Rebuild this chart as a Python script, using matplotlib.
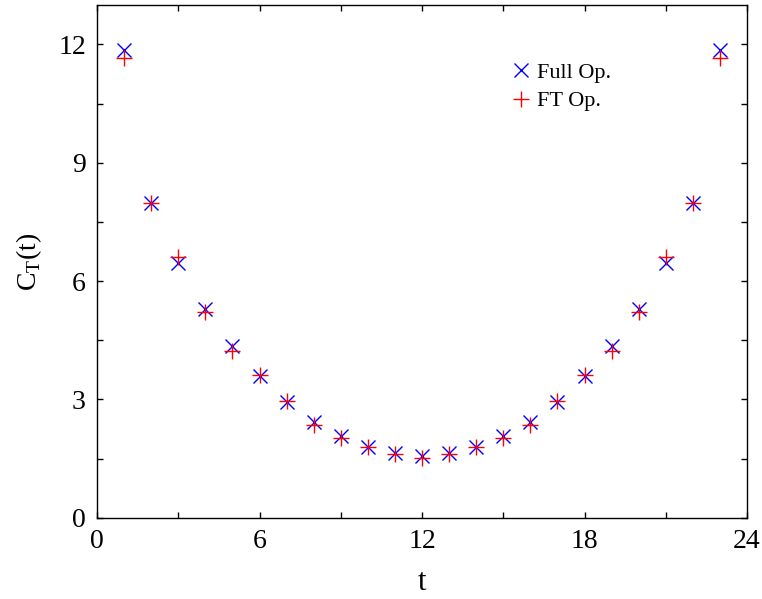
import matplotlib
matplotlib.use("Agg")
import matplotlib.pyplot as plt
from matplotlib.ticker import MultipleLocator

t = list(range(1, 24))
full_op = [11.86, 7.99, 6.47, 5.28, 4.36, 3.59, 2.94, 2.43, 2.07, 1.80, 1.63, 1.56,
           1.63, 1.80, 2.07, 2.43, 2.94, 3.59, 4.36, 5.28, 6.47, 7.99, 11.86]
ft_op = [11.66, 7.99, 6.60, 5.21, 4.22, 3.62, 2.97, 2.35, 2.03, 1.80, 1.61, 1.51,
         1.61, 1.80, 2.03, 2.35, 2.97, 3.62, 4.22, 5.21, 6.60, 7.99, 11.66]

plt.rcParams['font.family'] = ['Liberation Serif', 'DejaVu Serif']
plt.rcParams['mathtext.fontset'] = 'custom'
plt.rcParams['mathtext.rm'] = 'Liberation Serif'

fig = plt.figure(figsize=(7.62, 5.99), dpi=100)
ax = fig.add_axes([97/762, 1-517.7/599, 650/762, 512.7/599])

ax.plot(t, full_op, linestyle='none', marker='x', color='#0000ff', markersize=9.5,
        markeredgewidth=1.0, label='Full Op.')
ax.plot(t, ft_op, linestyle='none', marker='+', color='#ff0000', markersize=12,
        markeredgewidth=1.0, label='FT Op.')

ax.set_xlim(0, 24)
ax.set_ylim(0, 13)
ax.xaxis.set_major_locator(MultipleLocator(6))
ax.xaxis.set_minor_locator(MultipleLocator(3))
ax.yaxis.set_major_locator(MultipleLocator(3))
ax.yaxis.set_minor_locator(MultipleLocator(1.5))
ax.tick_params(which='both', direction='in', top=True, right=True, length=4, width=1)
ax.tick_params(which='major', labelsize=20, pad=8)
for s in ax.spines.values():
    s.set_linewidth(1.0)

ax.set_xlabel('t', fontsize=22, labelpad=10)
ax.set_ylabel(r'C$_\mathrm{T}$(t)', fontsize=20, labelpad=10)

leg = ax.legend(loc='upper left', bbox_to_anchor=(0.625, 0.905), frameon=False,
                fontsize=16, handlelength=0.8, handletextpad=0.3, labelspacing=0.35,
                borderaxespad=0)

fig.savefig('out.png', dpi=100)
